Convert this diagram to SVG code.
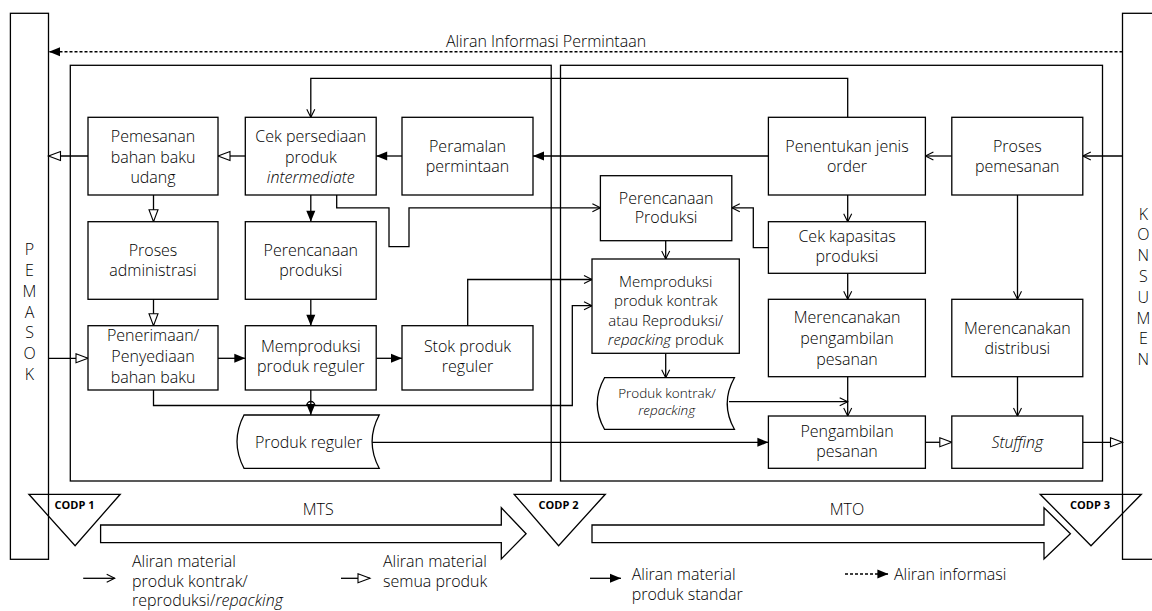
<svg xmlns="http://www.w3.org/2000/svg" width="1152" height="611" viewBox="0 0 1152 611">
<defs>
<style>
text{font-family:"Open Sans","Noto Sans",sans-serif;font-size:16px;font-weight:300;fill:#000;text-anchor:middle}
.box{fill:#fff;stroke:#000;stroke-width:1.3}
.frame{fill:none;stroke:#000;stroke-width:1.3}
.ln{fill:none;stroke:#000;stroke-width:1.3}
.f{marker-end:url(#fill)}
.v{marker-end:url(#vee)}
.t{marker-end:url(#tri)}
.it{font-style:italic}
.sm{font-size:15px}
.xs{font-size:13.5px}
.codp{font-family:"Open Sans","Noto Sans",sans-serif;font-size:11px;font-weight:700}
.lg{text-anchor:start}
</style>
<marker id="fill" markerUnits="userSpaceOnUse" markerWidth="12" markerHeight="10" refX="11" refY="4.5" orient="auto" overflow="visible"><path d="M0,0 L11,4.5 L0,9 z" fill="#000" stroke="none"/></marker>
<marker id="vee" markerUnits="userSpaceOnUse" markerWidth="10" markerHeight="10" refX="8" refY="4" orient="auto" overflow="visible"><path d="M0,0 L8,4 L0,8" fill="none" stroke="#000" stroke-width="1.1"/></marker>
<marker id="tri" markerUnits="userSpaceOnUse" markerWidth="14" markerHeight="11" refX="12.5" refY="4.5" orient="auto" overflow="visible"><path d="M0.5,0 L12.5,4.5 L0.5,9 z" fill="#fff" stroke="#000" stroke-width="1.1"/></marker>
</defs>
<rect width="1152" height="611" fill="#fff"/>

<g id="pemasok">
<rect class="box" x="10.4" y="13.3" width="38.1" height="546"/>
<text x="29.5" y="255">P</text><text x="29.5" y="275.8">E</text><text x="29.5" y="296.7">M</text><text x="29.5" y="317.5">A</text><text x="29.5" y="338.3">S</text><text x="29.5" y="359.2">O</text><text x="29.5" y="380">K</text>
</g>
<g id="konsumen">
<rect class="box" x="1122.5" y="13.3" width="40" height="546"/>
<text x="1143.3" y="219.6">K</text><text x="1143.3" y="240.4">O</text><text x="1143.3" y="261.2">N</text><text x="1143.3" y="282">S</text><text x="1143.3" y="302.8">U</text><text x="1143.3" y="323.6">M</text><text x="1143.3" y="344.4">E</text><text x="1143.3" y="365.2">N</text>
</g>

<g id="mts-area"><rect class="frame" x="70.3" y="65.3" width="480.9" height="415.7"/></g>
<g id="mto-area"><rect class="frame" x="560.5" y="65.3" width="542" height="415.7"/></g>

<g id="info-flow">
<line x1="1122.5" y1="51.7" x2="49" y2="51.7" stroke="#000" stroke-width="1.5" stroke-dasharray="3,2" marker-end="url(#fill)"/>
<text x="546" y="46.7">Aliran Informasi Permintaan</text>
</g>

<g id="connectors">
<path class="ln v" d="M847.7,117.3 V78.3 H310.8 V117.3"/>
<path class="ln v" d="M1122.5,156 H1082.8"/>
<path class="ln v" d="M951.8,156 H925.4"/>
<path class="ln f" d="M768.4,156 H533"/>
<path class="ln f" d="M402,156 H376.2"/>
<path class="ln t" d="M245.3,156 H218"/>
<path class="ln t" d="M88,156 H48.5"/>
<path class="ln t" d="M153.5,195 V221.7"/>
<path class="ln t" d="M153.5,299.3 V325.7"/>
<path class="ln t" d="M48.5,358.3 H88"/>
<path class="ln f" d="M218,358.3 H245.3"/>
<path class="ln f" d="M376.2,358.3 H402"/>
<path class="ln f" d="M310.8,195 V221.7"/>
<path class="ln f" d="M310.8,299.3 V325.7"/>
<path class="ln f" d="M310.8,390 V415"/>
<path class="ln v" d="M336.7,195 V207.8 H389 V246.7 H409 V207.8 H600.4"/>
<path class="ln v" d="M768.4,247.7 H753.3 V207.8 H731.8"/>
<path class="ln v" d="M847.7,195 V221.7"/>
<path class="ln v" d="M665.7,240.7 V259"/>
<path class="ln v" d="M467.7,325.7 V279.5 H592"/>
<path class="ln v" d="M153.5,390 V405.5 H306.8 A4,4 0 0 1 314.8,405.5 H572.3 V305.7 H592"/>
<path class="ln v" d="M847.7,273.3 V299.3"/>
<path class="ln v" d="M665.7,353.3 V377.7"/>
<path class="ln v" d="M847.7,376.7 V416"/>
<path class="ln v" d="M729,401.7 H847.7"/>
<path class="ln v" d="M1017.5,195 V299.3"/>
<path class="ln v" d="M1017.5,376.7 V416"/>
<path class="ln f" d="M372,442.3 H768.4"/>
<path class="ln t" d="M925.4,442.3 H951.8"/>
<path class="ln t" d="M1082.8,442.3 H1122.5"/>
</g>

<g id="pemesanan-bahan-baku">
<rect class="box" x="88" y="117.3" width="130" height="77.7"/>
<text x="153" y="141.7">Pemesanan</text><text x="153" y="162.5">bahan baku</text><text x="153" y="183.3">udang</text>
</g>
<g id="cek-persediaan">
<rect class="box" x="245.3" y="117.3" width="130.9" height="77.7"/>
<text x="310.8" y="141.7">Cek persediaan</text><text x="310.8" y="162.5">produk</text><text x="310.8" y="183.3" class="it">intermediate</text>
</g>
<g id="peramalan">
<rect class="box" x="402" y="117.3" width="131" height="77.7"/>
<text x="467.5" y="151.7">Peramalan</text><text x="467.5" y="171.7">permintaan</text>
</g>
<g id="penentukan-jenis-order">
<rect class="box" x="768.4" y="117.3" width="157" height="77.7"/>
<text x="847" y="151.7">Penentukan jenis</text><text x="847" y="171.7">order</text>
</g>
<g id="proses-pemesanan">
<rect class="box" x="951.8" y="117.3" width="131" height="77.7"/>
<text x="1017.3" y="151.7">Proses</text><text x="1017.3" y="171.7">pemesanan</text>
</g>
<g id="proses-administrasi">
<rect class="box" x="88" y="221.7" width="130" height="77.6"/>
<text x="153" y="255.5">Proses</text><text x="153" y="275.5">administrasi</text>
</g>
<g id="perencanaan-produksi-mts">
<rect class="box" x="245.3" y="221.7" width="130.9" height="77.6"/>
<text x="310.8" y="255.5">Perencanaan</text><text x="310.8" y="275.5">produksi</text>
</g>
<g id="penerimaan">
<rect class="box" x="88" y="325.7" width="130" height="64.3"/>
<text x="153" y="340.5">Penerimaan/</text><text x="153" y="361.5">Penyediaan</text><text x="153" y="382.5">bahan baku</text>
</g>
<g id="memproduksi-reguler">
<rect class="box" x="245.3" y="325.7" width="130.9" height="64.3"/>
<text x="310.8" y="352">Memproduksi</text><text x="310.8" y="372">produk reguler</text>
</g>
<g id="stok-produk">
<rect class="box" x="402" y="325.7" width="131" height="64.3"/>
<text x="467.5" y="352">Stok produk</text><text x="467.5" y="372">reguler</text>
</g>
<g id="produk-reguler">
<path class="box" d="M244,415 H379.2 Q365,441.6 379.2,468.3 H244 Q230,441.6 244,415 z"/>
<text x="308.5" y="448.3">Produk reguler</text>
</g>
<g id="perencanaan-produksi-mto">
<rect class="box" x="600.4" y="175.7" width="131.4" height="65"/>
<text x="666.1" y="203.5">Perencanaan</text><text x="666.1" y="223.3">Produksi</text>
</g>
<g id="cek-kapasitas">
<rect class="box" x="768.4" y="221.7" width="157" height="51.6"/>
<text x="847" y="242">Cek kapasitas</text><text x="847" y="262">produksi</text>
</g>
<g id="memproduksi-kontrak">
<rect class="box" x="592" y="259" width="147.3" height="94.3"/>
<text class="sm" x="665.7" y="286.5">Memproduksi</text><text class="sm" x="665.7" y="306">produk kontrak</text><text class="sm" x="665.7" y="325.5">atau Reproduksi/</text><text class="sm" x="665.7" y="345"><tspan class="it">repacking</tspan> produk</text>
</g>
<g id="merencanakan-pengambilan">
<rect class="box" x="768.4" y="299.3" width="157" height="77.4"/>
<text x="847" y="323.3">Merencanakan</text><text x="847" y="344.2">pengambilan</text><text x="847" y="365">pesanan</text>
</g>
<g id="merencanakan-distribusi">
<rect class="box" x="951.8" y="299.3" width="131" height="77.4"/>
<text x="1017.3" y="333.5">Merencanakan</text><text x="1017.3" y="353.5">distribusi</text>
</g>
<g id="produk-kontrak">
<path class="box" d="M604.5,377.7 H734.4 Q720,403.5 734.4,429.3 H604.5 Q590,403.5 604.5,377.7 z"/>
<text class="xs" x="667" y="398">Produk kontrak/</text><text class="xs it" x="666.7" y="415">repacking</text>
</g>
<g id="pengambilan-pesanan">
<rect class="box" x="768.4" y="416" width="157" height="52.3"/>
<text x="847" y="437">Pengambilan</text><text x="847" y="457">pesanan</text>
</g>
<g id="stuffing">
<rect class="box" x="951.8" y="416" width="131" height="52.3"/>
<text x="1017.3" y="447.5" class="it">Stuffing</text>
</g>

<g id="codp">
<path class="frame" d="M28.9,494.3 H120.2 L75.1,545.7 z"/>
<text class="codp" x="74.5" y="509.3">CODP 1</text>
<path class="frame" d="M514.2,494.3 H605.3 L558.6,545.7 z"/>
<text class="codp" x="558.6" y="509.3">CODP 2</text>
<path class="frame" d="M1040.2,494.3 H1141.3 L1091,545.7 z"/>
<text class="codp" x="1090" y="509.3">CODP 3</text>
</g>

<g id="mts-arrow">
<path class="box" d="M100.6,525 H501.3 V507.7 L526.1,533.7 L501.3,559 V542.7 H100.6 z"/>
<text x="318.2" y="515">MTS</text>
</g>
<g id="mto-arrow">
<path class="box" d="M592,525 H1044 V507.7 L1070.4,533.7 L1044,559 V542.7 H592 z"/>
<text x="847" y="515">MTO</text>
</g>

<g id="legend">
<line class="ln v" x1="83.2" y1="578.3" x2="114.7" y2="578.3"/>
<text class="lg" x="132" y="567">Aliran material</text>
<text class="lg" x="132" y="586.5">produk kontrak/</text>
<text class="lg" x="132" y="606">reproduksi/<tspan class="it">repacking</tspan></text>
<line class="ln t" x1="341" y1="578.3" x2="370" y2="578.3"/>
<text class="lg" x="383" y="567">Aliran material</text>
<text class="lg" x="383" y="586.5">semua produk</text>
<line class="ln f" x1="590" y1="578.3" x2="621" y2="578.3"/>
<text class="lg" x="631.7" y="580">Aliran material</text>
<text class="lg" x="631.7" y="599.5">produk standar</text>
<line x1="845" y1="574" x2="888.4" y2="574" stroke="#000" stroke-width="1.5" stroke-dasharray="3,2" marker-end="url(#fill)"/>
<text class="lg" x="894" y="580">Aliran informasi</text>
</g>
</svg>
